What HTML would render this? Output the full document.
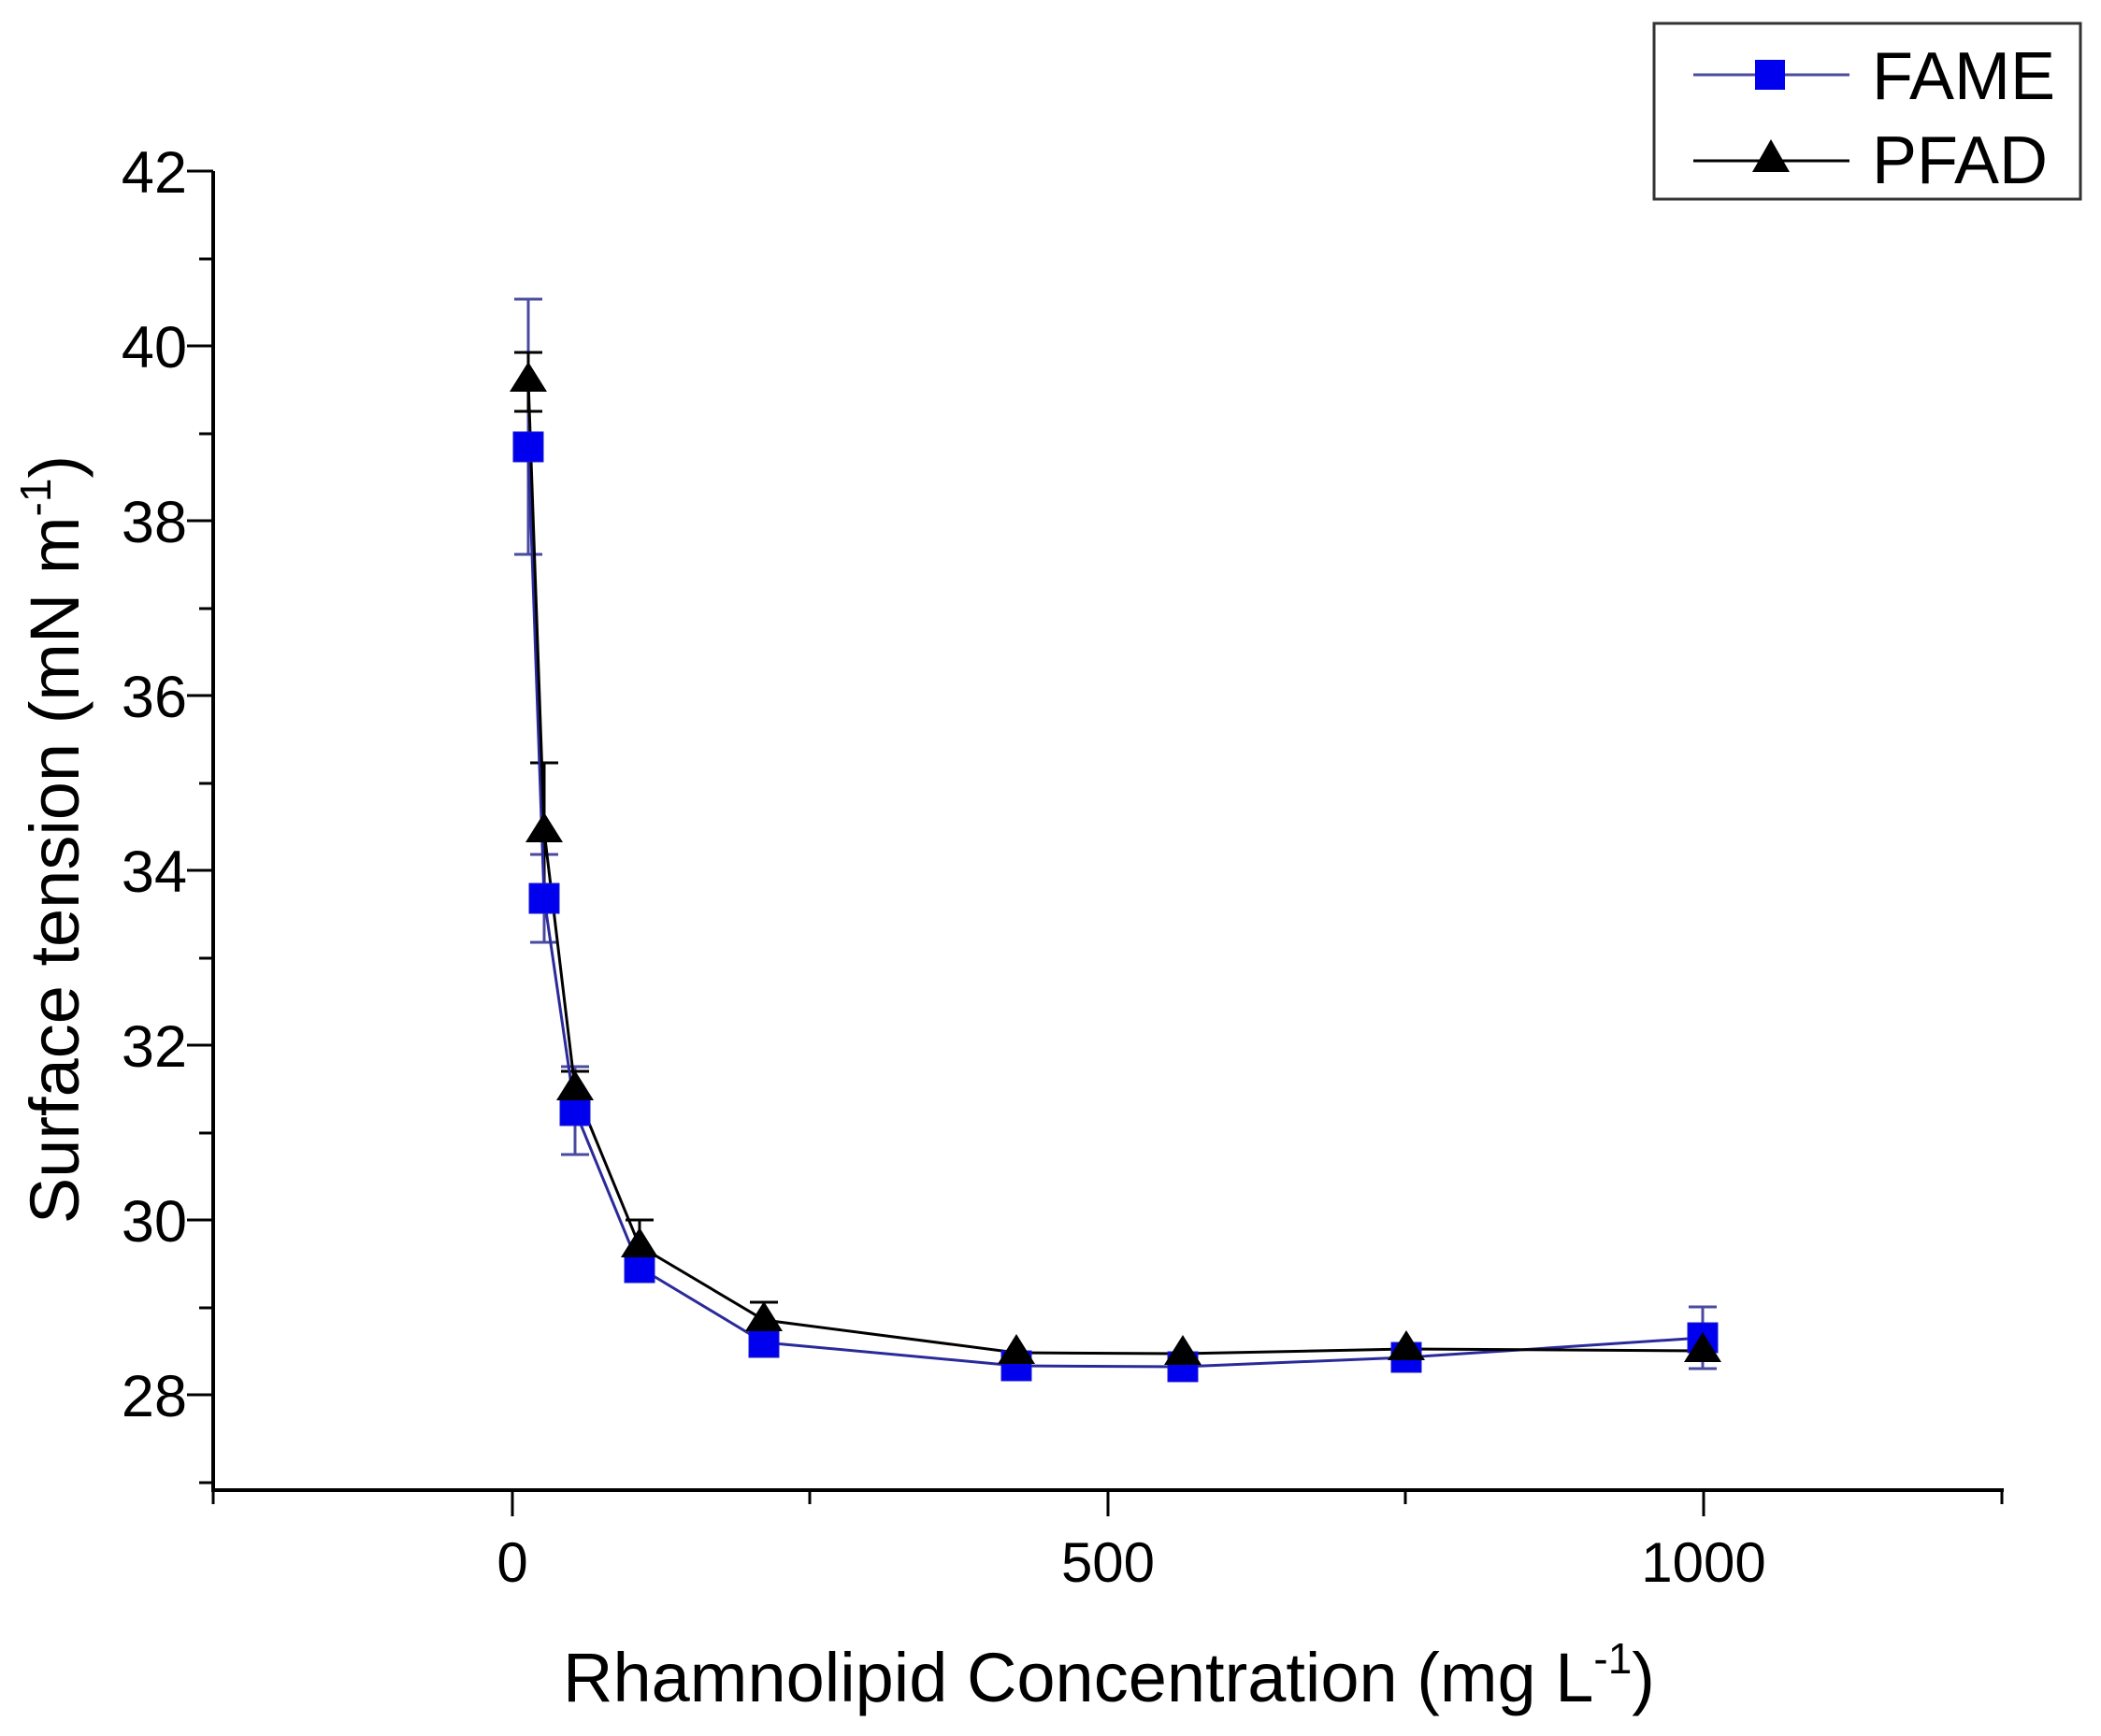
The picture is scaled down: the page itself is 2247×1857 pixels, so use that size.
<!DOCTYPE html>
<html><head><meta charset="utf-8"><style>
html,body{margin:0;padding:0;background:#fff;}
svg{display:block;}
text{font-family:"Liberation Sans",Arial,sans-serif;fill:#000;}
</style></head><body>
<svg width="2247" height="1857" viewBox="0 0 2247 1857" xmlns="http://www.w3.org/2000/svg">
<rect width="2247" height="1857" fill="#fff"/>
<g stroke="#000" stroke-width="4" fill="none">
<line x1="228" y1="183" x2="228" y2="1594"/>
<line x1="226" y1="1594" x2="2143" y2="1594"/>
</g>
<g stroke="#000" stroke-width="3">
<line x1="200" y1="183" x2="228" y2="183"/>
<line x1="200" y1="370" x2="228" y2="370"/>
<line x1="200" y1="557" x2="228" y2="557"/>
<line x1="200" y1="744" x2="228" y2="744"/>
<line x1="200" y1="931" x2="228" y2="931"/>
<line x1="200" y1="1118" x2="228" y2="1118"/>
<line x1="200" y1="1305" x2="228" y2="1305"/>
<line x1="200" y1="1492" x2="228" y2="1492"/>
<line x1="213" y1="277" x2="228" y2="277"/>
<line x1="213" y1="464" x2="228" y2="464"/>
<line x1="213" y1="651" x2="228" y2="651"/>
<line x1="213" y1="838" x2="228" y2="838"/>
<line x1="213" y1="1025" x2="228" y2="1025"/>
<line x1="213" y1="1212" x2="228" y2="1212"/>
<line x1="213" y1="1399" x2="228" y2="1399"/>
<line x1="213" y1="1586" x2="228" y2="1586"/>
<line x1="228" y1="1594" x2="228" y2="1609"/>
<line x1="548" y1="1594" x2="548" y2="1622"/>
<line x1="866" y1="1594" x2="866" y2="1609"/>
<line x1="1185" y1="1594" x2="1185" y2="1622"/>
<line x1="1503" y1="1594" x2="1503" y2="1609"/>
<line x1="1822" y1="1594" x2="1822" y2="1622"/>
<line x1="2141" y1="1594" x2="2141" y2="1609"/>
</g>
<g font-size="63" text-anchor="end">
<text x="200" y="206">42</text>
<text x="200" y="393">40</text>
<text x="200" y="580">38</text>
<text x="200" y="767">36</text>
<text x="200" y="954">34</text>
<text x="200" y="1141">32</text>
<text x="200" y="1328">30</text>
<text x="200" y="1515">28</text>
</g>
<g font-size="60" text-anchor="middle">
<text x="548" y="1692">0</text>
<text x="1185" y="1692">500</text>
<text x="1822" y="1692">1000</text>
</g>
<text x="1186" y="1820" font-size="74" text-anchor="middle">Rhamnolipid Concentration (mg L<tspan dy="-30" font-size="46">-1</tspan><tspan dy="30">)</tspan></text>
<text transform="translate(84,898) rotate(-90)" font-size="74" text-anchor="middle">Surface tension (mN m<tspan dy="-30" font-size="46">-1</tspan><tspan dy="30">)</tspan></text>

<g stroke="#4a4aa0" stroke-width="3">
<line x1="565" y1="320" x2="565" y2="593"/><line x1="550" y1="320" x2="580" y2="320"/><line x1="550" y1="593" x2="580" y2="593"/>
<line x1="582" y1="914" x2="582" y2="1008"/><line x1="567" y1="914" x2="597" y2="914"/><line x1="567" y1="1008" x2="597" y2="1008"/>
<line x1="615" y1="1141" x2="615" y2="1235"/><line x1="600" y1="1141" x2="630" y2="1141"/><line x1="600" y1="1235" x2="630" y2="1235"/>
<line x1="684" y1="1342" x2="684" y2="1370"/><line x1="669" y1="1342" x2="699" y2="1342"/><line x1="669" y1="1370" x2="699" y2="1370"/>
<line x1="1821" y1="1398" x2="1821" y2="1464"/><line x1="1806" y1="1398" x2="1836" y2="1398"/><line x1="1806" y1="1464" x2="1836" y2="1464"/>
</g>
<g stroke="#000" stroke-width="3">
<line x1="565" y1="377" x2="565" y2="440"/><line x1="550" y1="377" x2="580" y2="377"/><line x1="550" y1="440" x2="580" y2="440"/>
<line x1="582" y1="816" x2="582" y2="962"/><line x1="567" y1="816" x2="597" y2="816"/>
<line x1="615" y1="1146" x2="615" y2="1184"/><line x1="600" y1="1146" x2="630" y2="1146"/>
<line x1="684" y1="1305" x2="684" y2="1360"/><line x1="669" y1="1305" x2="699" y2="1305"/>
<line x1="817" y1="1393" x2="817" y2="1431"/><line x1="802" y1="1393" x2="832" y2="1393"/>
</g>
<polyline fill="none" stroke="#2a2a9a" stroke-width="3" points="565,478 582,961 615,1188 684,1356 817,1436 1087,1461 1265,1462 1504,1452 1821,1431"/>
<polyline fill="none" stroke="#000" stroke-width="3" points="565,407 582,889 615,1165 684,1333 817,1412 1087,1447 1265,1448 1504,1443 1821,1445"/>
<g fill="#0000ee" stroke="#1a1ad0" stroke-width="1">
<rect x="549" y="462" width="32" height="32"/>
<rect x="566" y="945" width="32" height="32"/>
<rect x="599" y="1172" width="32" height="32"/>
<rect x="668" y="1340" width="32" height="32"/>
<rect x="801" y="1420" width="32" height="32"/>
<rect x="1071" y="1445" width="32" height="32"/>
<rect x="1249" y="1446" width="32" height="32"/>
<rect x="1488" y="1436" width="32" height="32"/>
<rect x="1805" y="1415" width="32" height="32"/>
</g>
<g fill="#000">
<polygon points="565,387 545,419 585,419"/>
<polygon points="582,869 562,901 602,901"/>
<polygon points="615,1145 595,1177 635,1177"/>
<polygon points="684,1313 664,1345 704,1345"/>
<polygon points="817,1392 797,1424 837,1424"/>
<polygon points="1087,1427 1067,1459 1107,1459"/>
<polygon points="1265,1428 1245,1460 1285,1460"/>
<polygon points="1504,1423 1484,1455 1524,1455"/>
<polygon points="1821,1425 1801,1457 1841,1457"/>
</g>
<rect x="1769" y="25" width="456" height="188" fill="#fff" stroke="#333" stroke-width="3"/>
<line x1="1811" y1="80" x2="1978" y2="80" stroke="#4a4aa0" stroke-width="3"/>
<rect x="1877" y="64" width="32" height="32" fill="#0000ee"/>
<line x1="1811" y1="172" x2="1978" y2="172" stroke="#000" stroke-width="3"/>
<polygon points="1894,149 1874,184 1914,184" fill="#000"/>
<text x="2002" y="106" font-size="72">FAME</text>
<text x="2002" y="196" font-size="72">PFAD</text>
</svg>
</body></html>
